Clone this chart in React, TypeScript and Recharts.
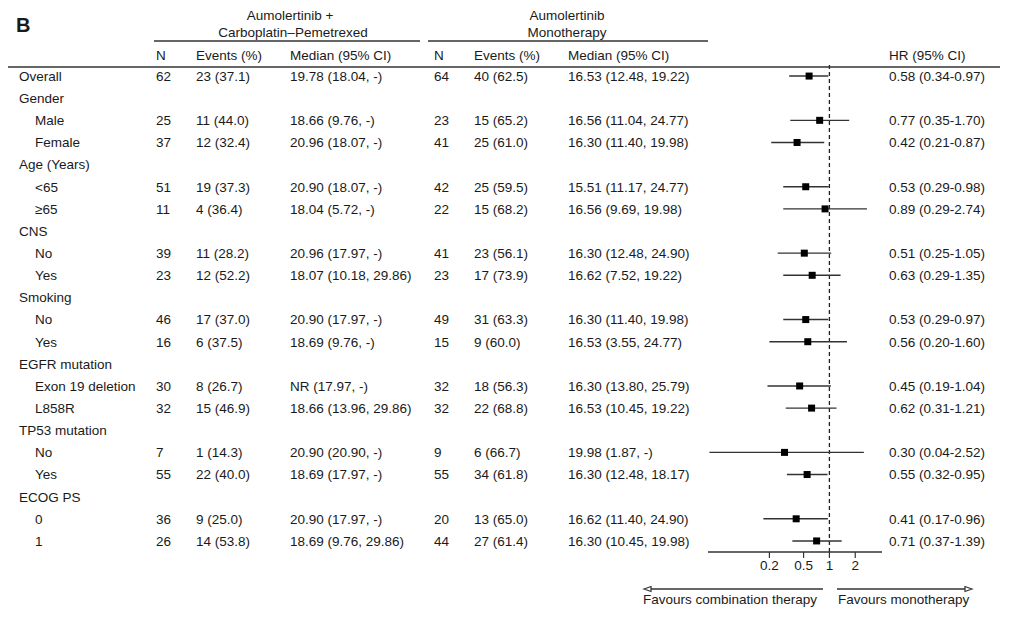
import React from 'react';
import {
  ScatterChart,
  Scatter,
  XAxis,
  YAxis,
  ErrorBar,
  ReferenceLine,
} from 'recharts';

if (typeof document !== 'undefined') document.body.style.margin = '0';

const FONT = '"Liberation Sans", Arial, Helvetica, sans-serif';
const INK = '#1a1a1a';
const FS = 13.5;

const rowLabels = [
  'Overall', 'Gender', 'Male', 'Female', 'Age (Years)', '<65', '≥65', 'CNS', 'No', 'Yes',
  'Smoking', 'No', 'Yes', 'EGFR mutation', 'Exon 19 deletion', 'L858R', 'TP53 mutation',
  'No', 'Yes', 'ECOG PS', '0', '1',
];
const isSub = [
  false, false, true, true, false, true, true, false, true, true, false, true, true,
  false, true, true, false, true, true, false, true, true,
];

const comboN = ['62', '', '25', '37', '', '51', '11', '', '39', '23', '', '46', '16', '', '30', '32', '', '7', '55', '', '36', '26'];
const comboEvents = [
  '23 (37.1)', '', '11 (44.0)', '12 (32.4)', '', '19 (37.3)', '4 (36.4)', '', '11 (28.2)', '12 (52.2)',
  '', '17 (37.0)', '6 (37.5)', '', '8 (26.7)', '15 (46.9)', '', '1 (14.3)', '22 (40.0)', '', '9 (25.0)', '14 (53.8)',
];
const comboMedian = [
  '19.78 (18.04, -)', '', '18.66 (9.76, -)', '20.96 (18.07, -)', '', '20.90 (18.07, -)', '18.04 (5.72, -)', '',
  '20.96 (17.97, -)', '18.07 (10.18, 29.86)', '', '20.90 (17.97, -)', '18.69 (9.76, -)', '', 'NR (17.97, -)',
  '18.66 (13.96, 29.86)', '', '20.90 (20.90, -)', '18.69 (17.97, -)', '', '20.90 (17.97, -)', '18.69 (9.76, 29.86)',
];

const monoN = ['64', '', '23', '41', '', '42', '22', '', '41', '23', '', '49', '15', '', '32', '32', '', '9', '55', '', '20', '44'];
const monoEvents = [
  '40 (62.5)', '', '15 (65.2)', '25 (61.0)', '', '25 (59.5)', '15 (68.2)', '', '23 (56.1)', '17 (73.9)',
  '', '31 (63.3)', '9 (60.0)', '', '18 (56.3)', '22 (68.8)', '', '6 (66.7)', '34 (61.8)', '', '13 (65.0)', '27 (61.4)',
];
const monoMedian = [
  '16.53 (12.48, 19.22)', '', '16.56 (11.04, 24.77)', '16.30 (11.40, 19.98)', '', '15.51 (11.17, 24.77)',
  '16.56 (9.69, 19.98)', '', '16.30 (12.48, 24.90)', '16.62 (7.52, 19.22)', '', '16.30 (11.40, 19.98)',
  '16.53 (3.55, 24.77)', '', '16.30 (13.80, 25.79)', '16.53 (10.45, 19.22)', '', '19.98 (1.87, -)',
  '16.30 (12.48, 18.17)', '', '16.62 (11.40, 24.90)', '16.30 (10.45, 19.98)',
];

const hr = [0.58, null, 0.77, 0.42, null, 0.53, 0.89, null, 0.51, 0.63, null, 0.53, 0.56, null, 0.45, 0.62, null, 0.30, 0.55, null, 0.41, 0.71];
const hrLow = [0.34, null, 0.35, 0.21, null, 0.29, 0.29, null, 0.25, 0.29, null, 0.29, 0.20, null, 0.19, 0.31, null, 0.04, 0.32, null, 0.17, 0.37];
const hrHigh = [0.97, null, 1.70, 0.87, null, 0.98, 2.74, null, 1.05, 1.35, null, 0.97, 1.60, null, 1.04, 1.21, null, 2.52, 0.95, null, 0.96, 1.39];

const xTicks = [0.2, 0.5, 1, 2];
const rowTicks = rowLabels.map((_, i) => i);

const points = hr
  .map((v, i) =>
    v == null
      ? null
      : { row: i, hr: v, err: [v - (hrLow[i] as number), (hrHigh[i] as number) - v] },
  )
  .filter(Boolean) as { row: number; hr: number; err: number[] }[];

const fmt = (v: number | null) => (v == null ? '' : v.toFixed(2));

const RowTick = (props: any) => {
  const { y, payload } = props;
  const i = payload.value as number;
  const t = (x: number, s: string) =>
    s ? (
      <text x={x} y={y} dy="0.36em" fill={INK} fontSize={FS} fontFamily={FONT}>
        {s}
      </text>
    ) : null;
  return (
    <g>
      {t(isSub[i] ? 35 : 19, rowLabels[i])}
      {t(156, comboN[i])}
      {t(196, comboEvents[i])}
      {t(290, comboMedian[i])}
      {t(434, monoN[i])}
      {t(474, monoEvents[i])}
      {t(568, monoMedian[i])}
      {hr[i] != null && t(889, `${fmt(hr[i])} (${fmt(hrLow[i])}-${fmt(hrHigh[i])})`)}
    </g>
  );
};

const Square = (props: any) => {
  const { cx, cy } = props;
  return <rect x={cx - 3.5} y={cy - 3.5} width={7} height={7} fill="#000" />;
};

const Header = () => (
  <svg
    width={1010}
    height={620}
    style={{ position: 'absolute', left: 0, top: 0, pointerEvents: 'none' }}
    fontFamily={FONT}
    fontSize={FS}
    fill={INK}
  >
    <text x={16} y={32} fontSize={20} fontWeight="bold">B</text>
    <text x={290} y={20} textAnchor="middle">Aumolertinib +</text>
    <text x={293} y={37} textAnchor="middle">Carboplatin–Pemetrexed</text>
    <line x1={154} x2={420} y1={41} y2={41} stroke="#333" strokeWidth={1.5} />
    <text x={567} y={20} textAnchor="middle">Aumolertinib</text>
    <text x={567} y={37} textAnchor="middle">Monotherapy</text>
    <line x1={428} x2={708} y1={41} y2={41} stroke="#333" strokeWidth={1.5} />
    <text x={156} y={60}>N</text>
    <text x={196} y={60}>Events (%)</text>
    <text x={290} y={60}>Median (95% CI)</text>
    <text x={434} y={60}>N</text>
    <text x={474} y={60}>Events (%)</text>
    <text x={568} y={60}>Median (95% CI)</text>
    <text x={889} y={60}>HR (95% CI)</text>
    <line x1={8} x2={1000} y1={67} y2={67} stroke="#333" strokeWidth={1.5} />

    <line x1={649} x2={823} y1={589} y2={589} stroke="#333" strokeWidth={1.7} />
    <polygon points="644,589 651,586.5 651,591.5" fill="#fff" stroke="#333" strokeWidth={1.2} />
    <line x1={837} x2={966} y1={589} y2={589} stroke="#333" strokeWidth={1.7} />
    <polygon points="972,589 965,586.5 965,591.5" fill="#fff" stroke="#333" strokeWidth={1.2} />
    <text x={643} y={604}>Favours combination therapy</text>
    <text x={838} y={604}>Favours monotherapy</text>
  </svg>
);

export default function App() {
  return (
    <div style={{ position: 'relative', width: 1010, height: 620, background: '#fff', fontFamily: FONT }}>
      <ScatterChart
        width={1010}
        height={620}
        margin={{ top: 65, right: 128, bottom: 38, left: 648 }}
        style={{ position: 'absolute', left: 0, top: 0 }}
      >
        <XAxis
          dataKey="hr"
          type="number"
          scale="log"
          domain={[0.0385, 4.1]}
          allowDataOverflow
          ticks={xTicks}
          interval={0}
          tickFormatter={(v: number) => String(v)}
          height={30}
          tickSize={6}
          axisLine={{ stroke: '#333', strokeWidth: 1.5 }}
          tickLine={{ stroke: '#333', strokeWidth: 1.2 }}
          tick={{ fontSize: FS, fill: INK, fontFamily: FONT }}
        />
        <YAxis
          dataKey="row"
          type="number"
          domain={[-0.5, 21.5]}
          reversed
          ticks={rowTicks}
          interval={0}
          width={60}
          axisLine={false}
          tickLine={false}
          tick={<RowTick />}
        />
        <ReferenceLine x={1} stroke="#222" strokeWidth={1.3} strokeDasharray="4 3" />
        <Scatter data={points} shape={<Square />} isAnimationActive={false}>
          <ErrorBar dataKey="err" direction="x" width={0} stroke="#333" strokeWidth={1.4} isAnimationActive={false} />
        </Scatter>
      </ScatterChart>
      <Header />
    </div>
  );
}
